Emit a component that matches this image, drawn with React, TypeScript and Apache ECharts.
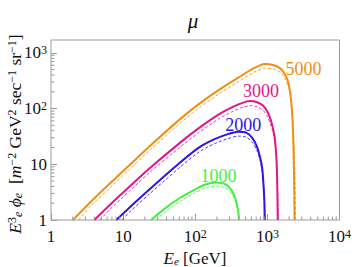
import React, { useEffect, useRef } from 'react';
import * as echarts from 'echarts';

const FONT = 'Liberation Serif';
const FRAME = '#9a9a9a';

const xMajorTicks = [1, 10, 100, 1000, 10000];
const yMajorTicks = [1, 10, 100, 1000];
const minorMultipliers = [2, 3, 4, 5, 6, 7, 8, 9];
const xMinorDecades = [1, 10, 100, 1000];
const yMinorDecades = [1, 10, 100];

const massLabels = ['5000', '3000', '2000', '1000'];
const colors = ['#EF9010', '#E2168A', '#2E14E6', '#40F23C'];
// label anchor positions [E, value]
const labelAnchors: [number, number][] = [
  [3162, 508],
  [815, 209],
  [462, 51.5],
  [210, 6.27],
];

// [E_e (GeV), E^3 phi]
const solid5000: [number, number][] = [
  [2.01, 1], [3.48, 2.06], [6.53, 4.51], [12.3, 9.68], [23.1, 20.8], [59.4, 62],
  [112, 120], [210, 214], [394, 358], [633, 519], [916, 630], [1228, 600],
  [1531, 519], [1792, 389], [1971, 279], [2133, 139], [2235, 60.7], [2306, 17.6],
  [2360, 3.38], [2381, 1],
];
const dashed5000: [number, number][] = [
  [2.42, 1], [3.48, 1.75], [6.53, 3.75], [12.3, 8.2], [23.1, 17.6], [59.4, 52.5],
  [112, 102], [210, 181], [394, 303], [633, 440], [916, 530], [1228, 508],
  [1531, 440], [1792, 330], [2001, 227], [2167, 117], [2285, 49.4], [2367, 14.3],
  [2427, 3.38], [2456, 1],
];
const solid3000: [number, number][] = [
  [3.98, 1], [6.53, 1.86], [12.3, 3.98], [23.1, 8.37], [59.4, 23.5], [112, 44.5],
  [210, 77.8], [337, 108], [461, 128], [575, 136], [718, 130], [867, 113],
  [984, 91.6], [1099, 65.9], [1189, 45.5], [1267, 28.9], [1328, 14.3], [1367, 5.1],
  [1393, 1],
];
const dashed3000: [number, number][] = [
  [4.77, 1], [6.53, 1.54], [12.3, 3.31], [23.1, 7.1], [59.4, 19.5], [112, 37],
  [210, 64.6], [337, 89.8], [461, 106], [575, 113], [718, 108], [867, 93.6],
  [984, 74.6], [1099, 53.6], [1197, 37], [1279, 23.5], [1341, 11.7], [1383, 4.15],
  [1415, 1],
];
const solid2000: [number, number][] = [
  [8.02, 1], [12.3, 1.68], [23.1, 3.52], [59.4, 10.3], [112, 19.9], [179, 27.7],
  [270, 34.1], [394, 38.5], [508, 37], [613, 30.1], [707, 21.6], [789, 13.7],
  [849, 8.37], [885, 4.13], [907, 2.24], [918, 1],
];
const dashed2000: [number, number][] = [
  [9.69, 1], [12.3, 1.39], [23.1, 2.92], [59.4, 8.55], [112, 16.5], [179, 23],
  [270, 28.3], [394, 32], [508, 30.7], [613, 25], [711, 18], [794, 11.7],
  [855, 7.1], [893, 3.67], [916, 1.98], [930, 1],
];
const solid1000: [number, number][] = [
  [24.3, 1], [37, 1.57], [59.4, 2.43], [95.3, 3.45], [139, 4.33], [191, 4.7],
  [246, 4.51], [288, 3.98], [326, 3.24], [359, 2.43], [382, 1.75], [397, 1.31],
  [404, 1],
];
const dashed1000: [number, number][] = [
  [28.8, 1], [37, 1.36], [59.4, 2.1], [95.3, 2.98], [139, 3.75], [191, 4.07],
  [246, 3.9], [288, 3.45], [328, 2.81], [362, 2.15], [386, 1.61], [402, 1.25],
  [410, 1],
];

const solids = [solid5000, solid3000, solid2000, solid1000];
const dasheds = [dashed5000, dashed3000, dashed2000, dashed1000];

function powLabel(v: number): string {
  const n = Math.round(Math.log10(v));
  if (n === 0) return '{b|1}';
  if (n === 1) return '{b|10}';
  return `{b|10}{s|${n}}`;
}

export default function App() {
  const ref = useRef<HTMLDivElement>(null);
  useEffect(() => {
    if (!ref.current) return;
    const chart = echarts.init(ref.current, null, { renderer: 'svg' });

    const minorData: number[][] = [];
    xMinorDecades.forEach((d) => minorMultipliers.forEach((k) => minorData.push([k * d, 1, 0])));
    yMinorDecades.forEach((d) => minorMultipliers.forEach((k) => minorData.push([1, k * d, 1])));

    const series: any[] = [];
    dasheds.forEach((data, i) => {
      series.push({
        type: 'line',
        data,
        showSymbol: false,
        smooth: 0.25,
        lineStyle: { color: colors[i], width: 1, type: [3, 2], opacity: 0.85 },
        z: 2,
      });
    });
    solids.forEach((data, i) => {
      series.push({
        type: 'line',
        data,
        showSymbol: false,
        smooth: 0.25,
        lineStyle: { color: colors[i], width: 2 },
        z: 3,
        markPoint: {
          symbol: 'rect',
          symbolSize: 1,
          itemStyle: { color: 'rgba(0,0,0,0)' },
          label: {
            show: true,
            position: 'inside',
            formatter: `{m|${massLabels[i]}}`,
            rich: { m: { color: colors[i], fontSize: 18, fontFamily: FONT } },
          },
          data: [{ coord: labelAnchors[i] }],
        },
      });
    });
    series.push({
      type: 'custom',
      data: minorData,
      silent: true,
      clip: false,
      z: 4,
      renderItem: (_p: any, api: any) => {
        const kind = api.value(2);
        const p = api.coord([api.value(0), api.value(1)]);
        if (kind === 0) {
          return {
            type: 'line',
            shape: { x1: p[0], y1: p[1], x2: p[0], y2: p[1] - 3.5 },
            style: { stroke: FRAME, lineWidth: 1 },
          };
        }
        return {
          type: 'line',
          shape: { x1: p[0], y1: p[1], x2: p[0] + 3.5, y2: p[1] },
          style: { stroke: FRAME, lineWidth: 1 },
        };
      },
    });

    const rich = {
      b: { fontSize: 17, fontFamily: FONT, color: '#111' },
      s: { fontSize: 12, fontFamily: FONT, color: '#111', verticalAlign: 'top' },
    };

    chart.setOption({
      animation: false,
      textStyle: { fontFamily: FONT },
      grid: {
        left: 51,
        right: 12,
        top: 40,
        bottom: 47,
        show: true,
        borderColor: FRAME,
        borderWidth: 1,
        backgroundColor: 'transparent',
      },
      xAxis: {
        type: 'log',
        logBase: 10,
        min: xMajorTicks[0],
        max: xMajorTicks[xMajorTicks.length - 1],
        axisLine: { show: false },
        axisTick: { show: true, inside: true, length: 6, lineStyle: { color: FRAME } },
        splitLine: { show: false },
        axisLabel: {
          formatter: powLabel,
          fontSize: 17,
          fontFamily: FONT,
          color: '#111',
          margin: 8,
          rich,
        },
      },
      yAxis: {
        type: 'log',
        logBase: 10,
        min: yMajorTicks[0],
        max: 1700,
        axisLine: { show: false },
        axisTick: { show: true, inside: true, length: 6, lineStyle: { color: FRAME } },
        splitLine: { show: false },
        axisLabel: {
          formatter: powLabel,
          fontSize: 17,
          fontFamily: FONT,
          color: '#111',
          margin: 4,
          showMaxLabel: false,
          rich,
        },
      },
      graphic: [
        {
          type: 'text',
          x: 193,
          y: 21,
          style: {
            text: '{t|μ}',
            fontFamily: FONT,
            fontSize: 21,
            fill: '#111',
            align: 'center',
            verticalAlign: 'middle',
            rich: { t: { fontFamily: FONT, fontStyle: 'italic', fontSize: 21, fill: '#111' } },
          },
        },
        {
          type: 'text',
          x: 195,
          y: 258,
          style: {
            text: '{i|E}{sb|e} [GeV]',
            fontFamily: FONT,
            fontSize: 17,
            fill: '#111',
            align: 'center',
            verticalAlign: 'middle',
            rich: {
              i: { fontFamily: FONT, fontStyle: 'italic', fontSize: 17, fill: '#111' },
              sb: { fontFamily: FONT, fontStyle: 'italic', fontSize: 11, fill: '#111', verticalAlign: 'bottom' },
            },
          },
        },
        {
          type: 'text',
          x: 15,
          y: 134,
          rotation: Math.PI / 2,
          style: {
            text: '{i|E}{sp|3}{sb|e} {i|ϕ}{sb|e}  [{i|m}{sp|−2} GeV{sp|2} sec{sp|−1} sr{sp|−1}]',
            fontFamily: FONT,
            fontSize: 17.5,
            fill: '#111',
            align: 'center',
            verticalAlign: 'middle',
            rich: {
              i: { fontFamily: FONT, fontStyle: 'italic', fontSize: 17.5, fill: '#111' },
              sp: { fontFamily: FONT, fontSize: 12, fill: '#111', verticalAlign: 'top' },
              sb: { fontFamily: FONT, fontStyle: 'italic', fontSize: 12, fill: '#111', verticalAlign: 'bottom' },
            },
          },
        },
      ],
      series,
    });
    return () => chart.dispose();
  }, []);
  return (
    <div
      ref={ref}
      style={{ position: 'fixed', left: 0, top: 0, width: 354, height: 267, background: '#fff' }}
    />
  );
}
